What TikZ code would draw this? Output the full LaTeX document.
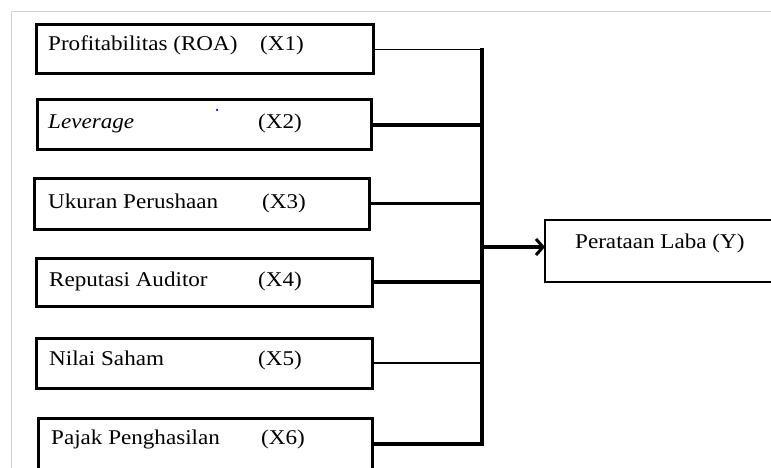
\documentclass[tikz,border=0pt]{standalone}
\usepackage{fontspec}
\setmainfont{Liberation Serif}[FakeStretch=1.1]
\usetikzlibrary{arrows.meta}
\begin{document}
\begin{tikzpicture}[x=1pt,y=-1pt,
  varbox/.style={draw=black,line width=3pt,rectangle,inner sep=0pt,outer sep=0pt},
  lbl/.style={anchor=base west,inner sep=0pt,font=\fontsize{21}{25}\selectfont},
  thinline/.style={line width=1.4pt},
  thickline/.style={line width=3.2pt},
  frameline/.style={draw=black!18,line width=1pt}]
\useasboundingbox (0,0) rectangle (771,468);
\draw[frameline] (11,468) -- (11,12) -- (771,12);
% boxes
\node[varbox,minimum width=337pt,minimum height=49pt] (b1) at (204.5,49.5) {};
\node[varbox,minimum width=334pt,minimum height=50pt] (b2) at (204,125) {};
\node[varbox,minimum width=335pt,minimum height=51pt] (b3) at (201.5,203.5) {};
\node[varbox,minimum width=336pt,minimum height=48pt] (b4) at (204,282) {};
\node[varbox,minimum width=336pt,minimum height=50pt] (b5) at (204,363) {};
\node[varbox,minimum width=334pt,minimum height=52pt] (b6) at (205,444) {};
\node[draw=black,line width=2.2pt,rectangle,inner sep=0pt,outer sep=0pt,minimum width=255pt,minimum height=62pt] (y) at (672.5,251) {};
% labels
\node[lbl] (t1a) at (48,51) {Profitabilitas (ROA)};
\node[lbl] (t1b) at (260,51) {(X1)};
\node[lbl] (t2a) at (48,129) {\itshape Leverage};
\node[lbl] (t2b) at (258,129) {(X2)};
\node[lbl] (t3a) at (48,208) {Ukuran Perushaan};
\node[lbl] (t3b) at (262,208) {(X3)};
\node[lbl] (t4a) at (49,286) {Reputasi Auditor};
\node[lbl] (t4b) at (258,286) {(X4)};
\node[lbl] (t5a) at (49,365) {Nilai Saham};
\node[lbl] (t5b) at (258,365) {(X5)};
\node[lbl] (t6a) at (51,444) {Pajak Penghasilan};
\node[lbl] (t6b) at (261,444) {(X6)};
\node[lbl] (ty) at (575,248) {Perataan Laba (Y)};
\node[circle,fill=blue,inner sep=0pt,minimum size=2.5pt] (dot) at (217,110) {};
% connectors
\coordinate (busx) at (482,0);
\coordinate (j) at (482,247);
\draw[thinline] (b1.east) -- (b1.east -| busx);
\draw[thickline] (b2.east) -- (b2.east -| busx);
\draw[thickline] (b3.east) -- (b3.east -| busx);
\draw[thickline] (b4.east) -- (b4.east -| busx);
\draw[thinline] (b5.east) -- (b5.east -| busx);
\draw[thickline] (b6.east) -- (b6.east -| busx);
\draw[thickline,line cap=rect] (b1.east -| busx) -- (b6.east -| busx);
\draw[thickline,-{Straight Barb[length=7pt,width=16pt,line width=3pt]}] (j) -- (j -| y.west);
\end{tikzpicture}
\end{document}
